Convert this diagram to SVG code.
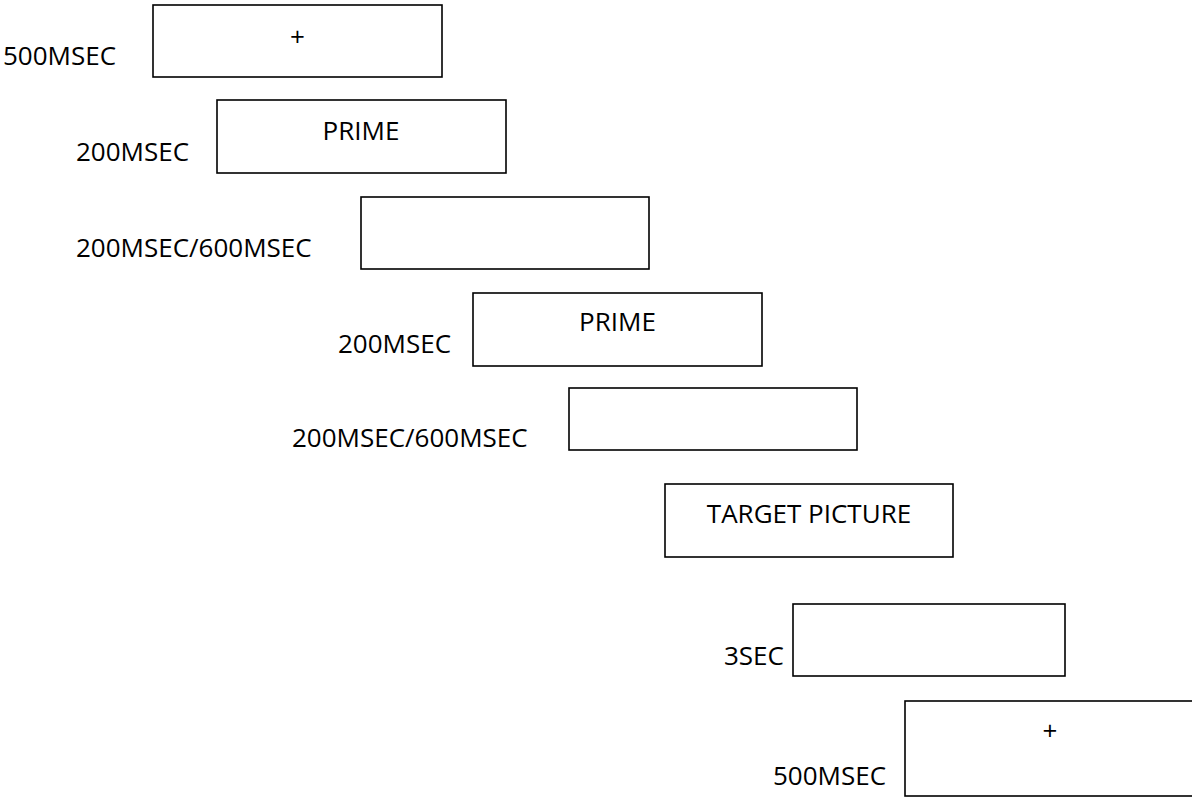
<svg xmlns="http://www.w3.org/2000/svg" width="1192" height="797" viewBox="0 0 1192 797">
<style>
.box{fill:#fff;stroke:#000;stroke-width:1.6}
text{font-family:"Open Sans","Liberation Sans",sans-serif;font-size:26px;fill:#000}
.c{text-anchor:middle}
</style>
<rect width="1192" height="797" fill="#fff"/>
<g id="step1">
<rect class="box" x="153" y="5" width="289" height="72"/>
<text class="c" x="297.5" y="46">+</text>
<text x="3" y="65">500MSEC</text>
</g>
<g id="step2">
<rect class="box" x="217" y="100" width="289" height="73"/>
<text class="c" x="361" y="140">PRIME</text>
<text x="76" y="161">200MSEC</text>
</g>
<g id="step3">
<rect class="box" x="361" y="197" width="288" height="72"/>
<text x="76" y="257">200MSEC/600MSEC</text>
</g>
<g id="step4">
<rect class="box" x="473" y="293" width="289" height="73"/>
<text class="c" x="617.5" y="331">PRIME</text>
<text x="338" y="353">200MSEC</text>
</g>
<g id="step5">
<rect class="box" x="569" y="388" width="288" height="62"/>
<text x="292" y="447">200MSEC/600MSEC</text>
</g>
<g id="step6">
<rect class="box" x="665" y="484" width="288" height="73"/>
<text class="c" x="809" y="523">TARGET PICTURE</text>
</g>
<g id="step7">
<rect class="box" x="793" y="604" width="272" height="72"/>
<text x="724" y="665">3SEC</text>
</g>
<g id="step8">
<rect class="box" x="905" y="701" width="289" height="95"/>
<text class="c" x="1050" y="740">+</text>
<text x="773" y="785">500MSEC</text>
</g>
<g id="connectors"></g>
</svg>
